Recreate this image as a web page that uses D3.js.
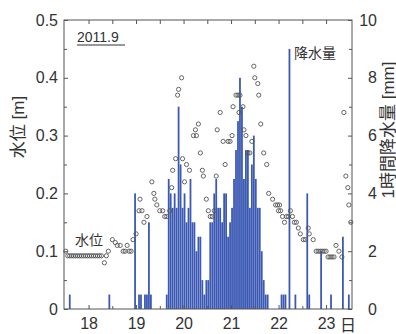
<!DOCTYPE html>
<html>
<head>
<meta charset="utf-8">
<script src="https://cdn.jsdelivr.net/npm/d3@7"></script>
<style>
  body { margin: 0; background: #fff; }
  svg { display: block; font-family: "Liberation Sans", Arial, "Noto Sans CJK JP", sans-serif; }
</style>
</head>
<body>
<svg id="chart" width="396" height="334"></svg>
<script>
// hours are counted from 18日 0時
const dayTicks = [0, 24, 48, 72, 96, 120];
const dayLabels = ['18', '19', '20', '21', '22', '23'];
const levelTicks = [0, 0.1, 0.2, 0.3, 0.4, 0.5];
const levelTickLabels = ['0', '0.1', '0.2', '0.3', '0.4', '0.5'];
const rainTicks = [0, 2, 4, 6, 8, 10];
const rainTickLabels = ['0', '2', '4', '6', '8', '10'];

// hourly rainfall (mm), first value is the hour starting 17日12時
const rainHourly = [
  0, 0, 0.5, 0, 0, 0, 0, 0, 0, 0, 0, 0,
  0, 0, 0, 0, 0, 0, 0, 0, 0, 0, 0.5, 0, 0, 0, 0, 0, 0, 0, 0, 0, 0, 0, 0, 4,
  0, 0.5, 0.5, 0, 0.5, 0.5, 3, 0.5, 0, 0, 0, 0, 0, 0, 0, 0.5, 4.5, 4, 3.5, 4, 3.5, 7, 5, 3.5,
  4, 3, 3.5, 4.5, 3, 3, 2, 2.5, 2.5, 1, 0.5, 1, 1, 3, 3, 4, 4.5, 3.5, 3.5, 3, 4, 4, 2.5, 3,
  3.5, 4.5, 5.5, 6.5, 8, 7, 4.5, 5.5, 5.5, 3.5, 5, 6, 4.5, 3.5, 3.5, 2, 1, 0.5, 0.5, 0, 0, 0, 0, 0,
  0, 0.5, 0.5, 0.5, 0, 9, 0, 0, 0.5, 0, 0, 0, 0, 0, 4, 0.5, 0, 0, 0, 0, 0, 2, 0, 0,
  0, 0, 0.5, 0, 0, 0, 0, 0, 2.5, 0, 0, 0.5, 0
];

// water level observations (hour, m)
const levelHours = [
  -11.5, -10.5, -9.5, -8.5, -7.5, -6.5, -5.5, -4.5, -3.5, -2.5, -1.5, -0.5,
  0.5, 1.5, 2.5, 3.5, 4.5, 5.5, 6.5, 8, 9, 10,
  12, 13.5, 14.5, 16, 17.5, 18.5, 19.5, 20.5, 21.5, 22.5, 24, 25.5, 26, 27, 28, 29.5,
  32, 33, 33.5, 34.5, 36, 37.5, 38.5, 39.5, 41, 42, 42.5, 44, 45, 45.5, 47, 47.5,
  48.5, 49.5, 51, 53, 54, 54.5, 55.5, 56.5, 57.5, 58, 59.5, 60.5, 61.5, 62.5, 63.5, 64.5, 65,
  66.5, 68, 69, 70.5, 71.5, 72.5, 73, 74.5, 75.5, 76, 76.5, 78, 78.5, 79.5, 80.5, 81.5, 82.5,
  83.5, 84, 85.5, 86, 87, 88.5, 90, 91, 93, 94.5, 95.5, 96, 96.5, 97, 98,
  99, 100, 101, 102, 103, 104, 105, 106, 107, 108.5, 109.5, 111, 111.5,
  113.5, 115, 116, 117, 118, 119, 120, 121, 122, 123, 124, 125, 126.5, 128,
  129, 130, 131, 131.5, 132.5
];
const levelValues = [
  0.1, 0.092, 0.092, 0.092, 0.092, 0.092, 0.092, 0.092, 0.092, 0.092, 0.092, 0.092,
  0.092, 0.092, 0.092, 0.092, 0.092, 0.092, 0.092, 0.08, 0.092, 0.1,
  0.12, 0.115, 0.11, 0.11, 0.1, 0.1, 0.11, 0.1, 0.1, 0.12, 0.13, 0.17, 0.19, 0.17, 0.15, 0.16,
  0.22, 0.2, 0.19, 0.18, 0.17, 0.17, 0.16, 0.16, 0.17, 0.21, 0.24, 0.26, 0.37, 0.38, 0.4, 0.26,
  0.22, 0.25, 0.24, 0.3, 0.31, 0.3, 0.32, 0.27, 0.24, 0.23, 0.19, 0.17, 0.16, 0.16, 0.17, 0.23, 0.31,
  0.34, 0.29, 0.25, 0.29, 0.29, 0.3, 0.35, 0.37, 0.37, 0.34, 0.37, 0.35, 0.31, 0.3, 0.27, 0.27, 0.29,
  0.42, 0.4, 0.39, 0.37, 0.32, 0.27, 0.25, 0.2, 0.19, 0.18, 0.18, 0.17, 0.18, 0.17, 0.16,
  0.15, 0.16, 0.16, 0.17, 0.16, 0.15, 0.15, 0.14, 0.13, 0.12, 0.12, 0.14, 0.13,
  0.12, 0.1, 0.1, 0.1, 0.1, 0.1, 0.1, 0.09, 0.09, 0.09, 0.09, 0.11, 0.1, 0.09,
  0.34, 0.23, 0.21, 0.18, 0.15
];

const ink = '#333';
const plotL = 64, plotR = 352, plotT = 20, plotB = 309;

const x = d3.scaleLinear().domain([-12.4, 133.1]).range([plotL, plotR]);
const yL = d3.scaleLinear().domain([0, 0.5]).range([plotB, plotT]);
const yR = d3.scaleLinear().domain([0, 10]).range([plotB, plotT]);

const svg = d3.select('#chart');

// rainfall bars
const rain = rainHourly.map((v, i) => ({ h: i - 12, v })).filter(d => d.v > 0);
svg.append('g')
  .selectAll('rect')
  .data(rain)
  .join('rect')
  .attr('x', d => x(d.h) + 0.1)
  .attr('width', d => x(d.h + 1) - x(d.h) - 0.2)
  .attr('y', d => yR(d.v))
  .attr('height', d => plotB - yR(d.v))
  .attr('fill', '#3a58b4');

// water level circles
const level = levelHours.map((h, i) => ({ h, v: levelValues[i] }));
svg.append('g')
  .selectAll('circle')
  .data(level)
  .join('circle')
  .attr('cx', d => x(d.h))
  .attr('cy', d => yL(d.v))
  .attr('r', 2.1)
  .attr('fill', 'none')
  .attr('stroke', '#555')
  .attr('stroke-width', 0.9);

// frame
svg.append('rect')
  .attr('x', plotL).attr('y', plotT)
  .attr('width', plotR - plotL).attr('height', plotB - plotT)
  .attr('fill', 'none').attr('stroke', '#555').attr('stroke-width', 1);

function styleAxis(g) {
  g.select('.domain').remove();
  g.selectAll('line').attr('stroke', '#555');
  g.selectAll('text').attr('fill', ink).style('font-size', '16px');
}

// left axis
svg.append('g')
  .attr('transform', `translate(${plotL},0)`)
  .call(d3.axisLeft(yL).tickValues(levelTicks).tickSize(-4).tickPadding(6)
    .tickFormat((d, i) => levelTickLabels[i]))
  .call(styleAxis);
svg.append('g')
  .attr('transform', `translate(${plotL},0)`)
  .call(d3.axisLeft(yL).tickValues([0.05, 0.15, 0.25, 0.35, 0.45]).tickSize(-3).tickFormat(''))
  .call(styleAxis);

// right axis
svg.append('g')
  .attr('transform', `translate(${plotR},0)`)
  .call(d3.axisRight(yR).tickValues(rainTicks).tickSize(-4)
    .tickFormat((d, i) => rainTickLabels[i]))
  .call(styleAxis)
  .call(g => g.selectAll('text').attr('x', 25).attr('text-anchor', 'end'));
svg.append('g')
  .attr('transform', `translate(${plotR},0)`)
  .call(d3.axisRight(yR).tickValues([1, 3, 5, 7, 9]).tickSize(-3).tickFormat(''))
  .call(styleAxis);

// bottom axis
svg.append('g')
  .attr('transform', `translate(0,${plotB})`)
  .call(d3.axisBottom(x).tickValues(dayTicks).tickSize(-4).tickPadding(9)
    .tickFormat((d, i) => dayLabels[i]))
  .call(styleAxis);
svg.append('g')
  .attr('transform', `translate(0,${plotB})`)
  .call(d3.axisBottom(x).tickValues([12, 36, 60, 84, 108]).tickSize(-3).tickFormat(''))
  .call(styleAxis);

// top axis
svg.append('g')
  .attr('transform', `translate(0,${plotT})`)
  .call(d3.axisTop(x).tickValues(d3.range(0, 121, 12)).tickSize(-4).tickFormat(''))
  .call(styleAxis);

// labels
svg.append('text')
  .attr('x', 348).attr('y', 331)
  .attr('text-anchor', 'middle')
  .attr('fill', ink).style('font-size', '16px')
  .text('日');

svg.append('text')
  .attr('transform', 'translate(18,127) rotate(-90)')
  .attr('text-anchor', 'middle').attr('dominant-baseline', 'central')
  .attr('fill', ink).style('font-size', '17px')
  .text('水位 [m]');

svg.append('text')
  .attr('transform', 'translate(388,130) rotate(-90)')
  .attr('text-anchor', 'middle').attr('dominant-baseline', 'central')
  .attr('fill', ink).style('font-size', '17px')
  .text('1時間降水量 [mm]');

svg.append('text')
  .attr('x', 77).attr('y', 42)
  .attr('fill', ink).style('font-size', '14px')
  .text('2011.9');
svg.append('line')
  .attr('x1', 77).attr('x2', 125).attr('y1', 45).attr('y2', 45)
  .attr('stroke', ink).attr('stroke-width', 1);

svg.append('text')
  .attr('x', 75).attr('y', 245)
  .attr('fill', ink).style('font-size', '14px')
  .text('水位');

svg.append('text')
  .attr('x', 294).attr('y', 58)
  .attr('fill', ink).style('font-size', '14px')
  .text('降水量');
</script>
</body>
</html>
